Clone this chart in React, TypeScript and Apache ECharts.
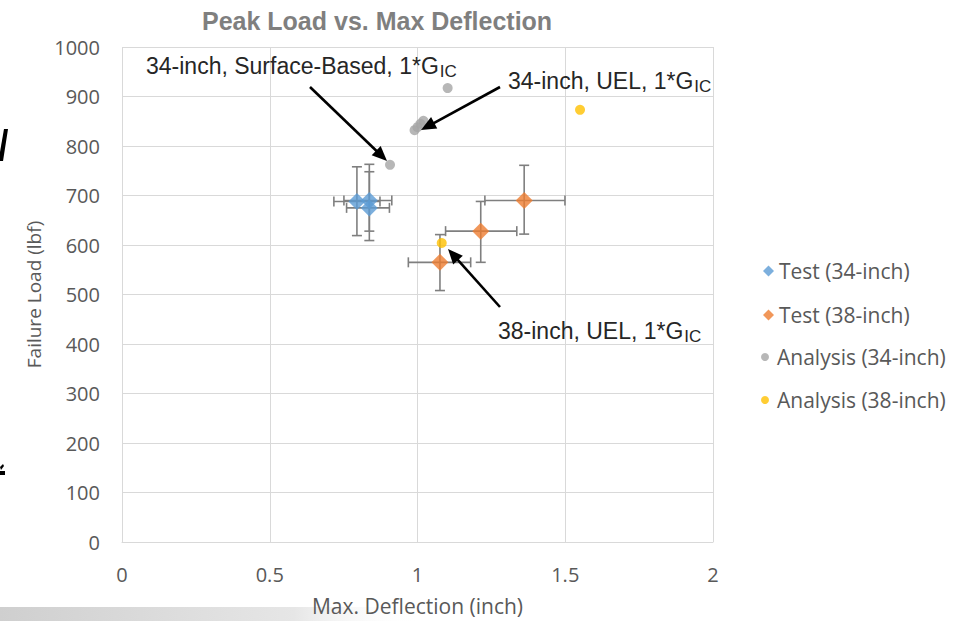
import React, { useEffect, useRef } from "react";
import * as echarts from "echarts";

// ---- data ----
const xTickStep = 0.5;
const yTickStep = 100;
const test34 = [[0.795, 688], [0.837, 690], [0.837, 675]];
const test34XErr = [[0.717, 0.873], [0.751, 0.913], [0.76, 0.905]];
const test34YErr = [[619, 758], [609, 763], [628, 748]];
const test38 = [[1.076, 565], [1.214, 628], [1.361, 690]];
const test38XErr = [[0.969, 1.18], [1.095, 1.336], [1.228, 1.499]];
const test38YErr = [[508, 621], [565, 688], [622, 761]];
const analysis34 = [[0.907, 762], [0.99, 832], [1.0, 838], [1.01, 845], [1.02, 851], [1.102, 917]];
const analysis38 = [[1.082, 604], [1.55, 873]];
const annotationLabels = ["34-inch, Surface-Based, 1*G", "34-inch, UEL, 1*G", "38-inch, UEL, 1*G"];
const annotationSub = "IC";

// ---- layout (pixels) ----
const annotationLayout = [
  { tx: 146, ty: 66, from: [310, 87], to: [387, 161] },
  { tx: 508, ty: 81, from: [500, 87], to: [421, 130] },
  { tx: 498, ty: 331, from: [500, 307], to: [448, 249] },
];

const GRAY_TEXT = "#595959";
const ERR = "#7f7f7f";

function errorSeries(name: string, pts: number[][], xe: number[][], ye: number[][]) {
  return {
    type: "custom",
    name,
    silent: true,
    z: 1,
    data: pts.map((p, i) => [p[0], p[1], xe[i][0], xe[i][1], ye[i][0], ye[i][1]]),
    encode: { x: [0, 2, 3], y: [1, 4, 5] },
    renderItem: (_params: any, api: any) => {
      const x = api.value(0), y = api.value(1);
      const c = api.coord([x, y]);
      const xl = api.coord([api.value(2), y]);
      const xh = api.coord([api.value(3), y]);
      const yl = api.coord([x, api.value(4)]);
      const yh = api.coord([x, api.value(5)]);
      const h = 5;
      const style = { stroke: ERR, lineWidth: 1.6, fill: null };
      const ln = (x1: number, y1: number, x2: number, y2: number) => ({
        type: "line",
        shape: { x1, y1, x2, y2 },
        style,
      });
      return {
        type: "group",
        children: [
          ln(xl[0], c[1], xh[0], c[1]),
          ln(xl[0], c[1] - h, xl[0], c[1] + h),
          ln(xh[0], c[1] - h, xh[0], c[1] + h),
          ln(c[0], yl[1], c[0], yh[1]),
          ln(c[0] - h, yl[1], c[0] + h, yl[1]),
          ln(c[0] - h, yh[1], c[0] + h, yh[1]),
        ],
      };
    },
  };
}

function arrow(x1: number, y1: number, x2: number, y2: number) {
  const dx = x2 - x1, dy = y2 - y1;
  const len = Math.hypot(dx, dy);
  const ux = dx / len, uy = dy / len;
  const L = 15, W = 6.5;
  const bx = x2 - ux * L, by = y2 - uy * L;
  return [
    { type: "line", shape: { x1, y1, x2: bx + ux * 2, y2: by + uy * 2 }, style: { stroke: "#000", lineWidth: 2.6 } },
    {
      type: "polygon",
      shape: { points: [[x2, y2], [bx - uy * W, by + ux * W], [bx + uy * W, by - ux * W]] },
      style: { fill: "#000" },
    },
  ];
}

export default function App() {
  const ref = useRef<HTMLDivElement>(null);
  useEffect(() => {
    if (!ref.current) return;
    const chart = echarts.init(ref.current, null, { renderer: "svg" });

    const annotationGraphics: any[] = [];
    annotationLayout.forEach((a, i) => {
      annotationGraphics.push({
        type: "text",
        x: a.tx,
        y: a.ty,
        z: 10,
        style: {
          text: `{n|${annotationLabels[i]}}{s|${annotationSub}}`,
          verticalAlign: "middle",
          align: "left",
          rich: {
            n: { fontFamily: "Liberation Sans", fontSize: 23, lineHeight: 27, fill: "#262626" },
            s: {
              fontFamily: "Liberation Sans",
              fontSize: 17,
              lineHeight: 17,
              verticalAlign: "bottom",
              fill: "#262626",
              padding: [0, 0, 0, 1],
            },
          },
        },
      });
      arrow(a.from[0], a.from[1], a.to[0], a.to[1]).forEach((g) => annotationGraphics.push({ ...g, z: 10 }));
    });

    const option: any = {
      animation: false,
      backgroundColor: "#ffffff",
      title: {
        text: "Peak Load vs. Max Deflection",
        left: 197,
        top: 3,
        textStyle: { fontFamily: "Liberation Sans", fontSize: 25, fontWeight: "bold", color: "#7f7f7f" },
      },
      grid: { left: 122, right: 240, top: 47, bottom: 78 },
      xAxis: {
        type: "value",
        min: 0,
        max: 2,
        interval: xTickStep,
        name: "Max. Deflection (inch)",
        nameLocation: "middle",
        nameGap: 53,
        nameTextStyle: { fontFamily: "Open Sans", fontSize: 21, color: GRAY_TEXT },
        axisLine: { show: true, lineStyle: { color: "#d9d9d9", width: 1 } },
        axisTick: { show: false },
        axisLabel: { fontFamily: "Open Sans", fontSize: 20, color: GRAY_TEXT, margin: 22 },
        splitLine: { show: true, lineStyle: { color: "#d9d9d9", width: 1 } },
      },
      yAxis: {
        type: "value",
        min: 0,
        max: 1000,
        interval: yTickStep,
        name: "Failure Load (lbf)",
        nameLocation: "middle",
        nameGap: 78,
        nameTextStyle: { fontFamily: "Open Sans", fontSize: 19, color: GRAY_TEXT },
        axisLine: { show: false },
        axisTick: { show: false },
        axisLabel: {
          fontFamily: "Open Sans",
          fontSize: 20,
          color: GRAY_TEXT,
          margin: 22,
          formatter: (v: number) => String(v),
        },
        splitLine: { show: true, lineStyle: { color: "#d9d9d9", width: 1 } },
      },
      legend: [
        {
          data: [
            { name: "Test (34-inch)", icon: "diamond" },
            { name: "Test (38-inch)", icon: "diamond" },
          ],
          orient: "vertical",
          left: 758,
          top: 254,
          itemWidth: 11,
          itemHeight: 11,
          itemGap: 20,
          selectedMode: false,
          textStyle: { fontFamily: "Open Sans", fontSize: 21, color: GRAY_TEXT, lineHeight: 24 },
        },
        {
          data: [
            { name: "Analysis (34-inch)", icon: "circle" },
            { name: "Analysis (38-inch)", icon: "circle" },
          ],
          orient: "vertical",
          left: 756,
          top: 340,
          itemWidth: 14,
          itemHeight: 8,
          itemGap: 19,
          selectedMode: false,
          textStyle: { fontFamily: "Open Sans", fontSize: 21, color: GRAY_TEXT, lineHeight: 24 },
        },
      ],
      series: [
        errorSeries("err34", test34, test34XErr, test34YErr),
        errorSeries("err38", test38, test38XErr, test38YErr),
        {
          type: "scatter",
          name: "Test (34-inch)",
          data: test34,
          symbol: "diamond",
          symbolSize: 17,
          itemStyle: { color: "#5b9bd5" },
          z: 3,
        },
        {
          type: "scatter",
          name: "Test (38-inch)",
          data: test38,
          symbol: "diamond",
          symbolSize: 17,
          itemStyle: { color: "#ed7d31" },
          z: 3,
        },
        {
          type: "scatter",
          name: "Analysis (34-inch)",
          data: analysis34,
          symbol: "circle",
          symbolSize: 10,
          itemStyle: { color: "#a5a5a5" },
          z: 3,
        },
        {
          type: "scatter",
          name: "Analysis (38-inch)",
          data: analysis38,
          symbol: "circle",
          symbolSize: 10,
          itemStyle: { color: "#ffc000" },
          z: 3,
        },
      ],
      graphic: [
        ...annotationGraphics,
        // slide artifacts on the left edge
        { type: "polygon", shape: { points: [[4, 129], [8, 129], [3, 161], [0, 161], [0, 152]] }, style: { fill: "#000" } },
        { type: "polygon", shape: { points: [[0, 471], [5, 471], [5, 475], [0, 475]] }, style: { fill: "#000" } },
        { type: "polygon", shape: { points: [[0, 467], [3, 464], [4, 466], [1, 470]] }, style: { fill: "#000" } },
        {
          type: "rect",
          z: -1,
          shape: { x: 0, y: 607, width: 420, height: 14 },
          style: {
            fill: new echarts.graphic.LinearGradient(0, 0, 1, 0, [
              { offset: 0, color: "#cfcfcf" },
              { offset: 0.7, color: "#e6e6e6" },
              { offset: 1, color: "rgba(255,255,255,0)" },
            ]),
          },
        },
      ],
    };
    chart.setOption(option);
    return () => chart.dispose();
  }, []);
  return (
    <div
      ref={ref}
      style={{ position: "absolute", left: 0, top: 0, width: 953, height: 621, background: "#fff" }}
    />
  );
}
